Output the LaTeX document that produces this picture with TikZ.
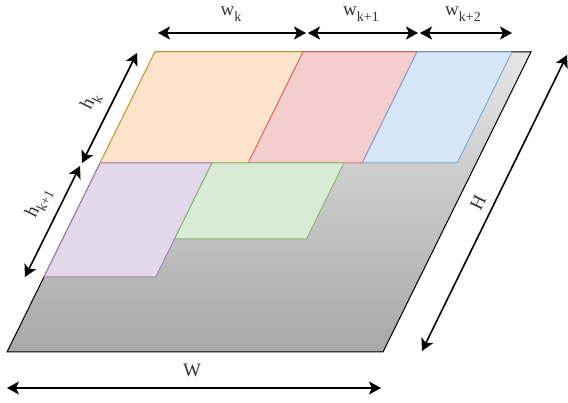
\documentclass[tikz,border=0pt]{standalone}
\usepackage{fontspec}
\setmainfont{Liberation Serif}
\usetikzlibrary{arrows.meta}

\definecolor{peachfill}{HTML}{FCE3CC}
\definecolor{peachline}{HTML}{D9AC45}
\definecolor{rosefill}{HTML}{F6CDCD}
\definecolor{roseline}{HTML}{D47070}
\definecolor{skyfill}{HTML}{D8E7F8}
\definecolor{skyline}{HTML}{7FA6D6}
\definecolor{lilacfill}{HTML}{E3D7EA}
\definecolor{lilacline}{HTML}{A382BA}
\definecolor{mintfill}{HTML}{D8EBD5}
\definecolor{mintline}{HTML}{8AB873}
\definecolor{baseline}{HTML}{9A9A9A}

\newcommand{\lowidx}[1]{\raisebox{-0.3em}{\fontsize{14}{14}\selectfont #1}}

\tikzset{
  dimarrow/.style={black, line width=#1,
    {Stealth[length=12pt,width=13pt,inset=3pt]}-{Stealth[length=12pt,width=13pt,inset=3pt]}},
  dimarrow/.default=2pt,
  dimlabel/.style={font=\fontsize{19}{22}\selectfont, text=black!80, inner sep=0pt},
  tile/.style 2 args={draw=#1, fill=#2, line width=1pt, line join=round},
}

\begin{document}
\begin{tikzpicture}[x=1pt, y=-1pt]
    \useasboundingbox (0,0) rectangle (568,403);

    % Base sheet
    \fill[top color=black!10, bottom color=black!34] (155,52) -- (531,52) -- (383,352) -- (7,352) -- cycle;
    \draw[baseline, line width=1pt] (155,52) -- (531,52) -- (383,352) -- (7,352) -- cycle;

    % First row of pieces
    \draw[tile={peachline}{peachfill}] (155,52) -- (303,52) -- (248.2,163) -- (100.2,163) -- cycle;
    \draw[tile={roseline}{rosefill}] (303,52) -- (417,52) -- (362.2,163) -- (248.2,163) -- cycle;
    \draw[tile={skyline}{skyfill}] (417,52) -- (512,52) -- (457.2,163) -- (362.2,163) -- cycle;

    % Second row of pieces
    \draw[tile={lilacline}{lilacfill}] (100.2,163) -- (212,163) -- (155.8,277) -- (44,277) -- cycle;
    \draw[tile={mintline}{mintfill}] (212,163) -- (344,163) -- (306.5,239) -- (174.5,239) -- cycle;

    % Arrow ends
    \coordinate (wk-l) at (158,33);
    \coordinate (wk-r) at (306,33);
    \coordinate (wk1-l) at (308,33);
    \coordinate (wk1-r) at (418,33);
    \coordinate (wk2-l) at (420,33);
    \coordinate (wk2-r) at (512,33);
    \coordinate (hk-t) at (137,53);
    \coordinate (hk-b) at (82,163);
    \coordinate (hk1-t) at (80,166);
    \coordinate (hk1-b) at (25,277);
    \coordinate (H-t) at (567,55);
    \coordinate (H-b) at (422,351);
    \coordinate (W-l) at (7,388);
    \coordinate (W-r) at (381,388);

    % Width arrows
    \draw[dimarrow] (wk-l) -- (wk-r);
    \draw[dimarrow] (wk1-l) -- (wk1-r);
    \draw[dimarrow] (wk2-l) -- (wk2-r);
    \draw[dimarrow] (W-l) -- (W-r);

    % Height arrows
    \draw[dimarrow=1.6pt] (hk-t) -- (hk-b);
    \draw[dimarrow=1.6pt] (hk1-t) -- (hk1-b);
    \draw[dimarrow=1.6pt] (H-t) -- (H-b);

    % Labels
    \node[dimlabel] (wk) at (231,14) {w\lowidx{k}};
    \node[dimlabel] (wk1) at (361,14) {w\lowidx{k+1}};
    \node[dimlabel] (wk2) at (463,14) {w\lowidx{k+2}};
    \node[dimlabel] (Wlab) at (192,370) {W};
    \node[dimlabel, rotate=63.8] (hk) at (91,101) {h\lowidx{k}};
    \node[dimlabel, rotate=63.8] (hk1) at (39,203) {h\lowidx{k+1}};
    \node[dimlabel, rotate=63.8] (Hlab) at (478,203) {H};
\end{tikzpicture}
\end{document}
